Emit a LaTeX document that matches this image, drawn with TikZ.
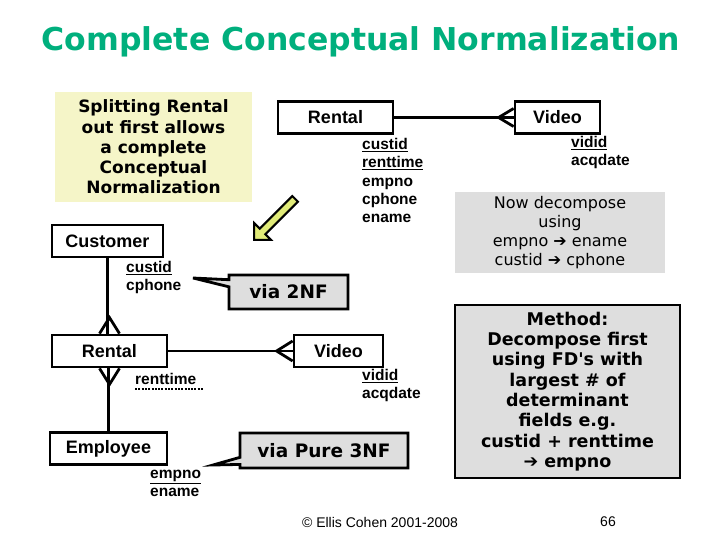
\documentclass[tikz,border=0pt]{standalone}
\usepackage{fontspec}
\setmainfont{Liberation Sans}
\newfontfamily\vfont{DejaVu Sans}
\usetikzlibrary{shapes.callouts,shapes.arrows}
\definecolor{ttl}{RGB}{0,175,125}
\definecolor{pale}{RGB}{245,245,200}
\definecolor{gr}{RGB}{222,222,222}
\definecolor{arw}{RGB}{225,235,120}
\begin{document}
\begin{tikzpicture}[x=1pt,y=-1pt,
 ent/.style={draw,line width=2.8pt,fill=white,minimum height=32pt,inner sep=1pt,font=\bfseries\fontsize{18}{20}\selectfont},
 att/.style={align=left,anchor=north west,inner sep=0pt,font=\bfseries\fontsize{15.5}{18.3}\selectfont},
 rel/.style={line width=2.8pt},
 bold/.style={font=\vfont\bfseries\fontsize{17}{18}\selectfont,align=center},
 call/.style={draw,line width=2.8pt,fill=gr,rectangle callout,bold,inner sep=1pt,font=\vfont\bfseries\fontsize{18.5}{20}\selectfont}]
\useasboundingbox (0,0) rectangle (720,540);
\node[font=\vfont\bfseries\fontsize{31.5}{34}\selectfont,text=ttl] (title) at (361,42) {Complete Conceptual Normalization};
\node[fill=pale,bold,minimum width=197pt,minimum height=110pt,inner sep=1pt,font=\vfont\bfseries\fontsize{17}{20.3}\selectfont] (note) at (153.5,147) {Splitting Rental\\out first allows\\a complete\\Conceptual\\Normalization};
% top
\node[ent,minimum width=115pt] (r1) at (335.5,117.5) {Rental};
\node[ent,minimum width=85pt] (v1) at (557.5,117.5) {Video};
\draw[rel] (r1.east) -- (v1.west);
\draw[rel] (v1.west)++(0,-9) -- ++(-15,9) -- ++(15,9);
\node[att] (a1) at (362,138) {\underline{custid}\\\underline{renttime}\\empno\\cphone\\ename};
\node[att] (a2) at (571,136) {\underline{vidid}\\acqdate};
\node[fill=gr,minimum width=210pt,minimum height=81pt,bold,inner sep=1pt,font=\vfont\fontsize{16}{19}\selectfont] (now) at (560,232.5) {Now decompose\\using\\empno {\vfont\bfseries➔} ename\\custid {\vfont\bfseries➔} cphone};
\node[single arrow,draw,line width=2pt,fill=arw,rotate=-135,minimum height=58pt,minimum width=24pt,single arrow head extend=6pt,inner sep=2pt] (ya) at (276,218) {};
% lower
\node[ent,minimum width=111pt] (cu) at (107.5,241) {Customer};
\node[att] (a3) at (126,261) {\underline{custid}\\cphone};
\node[call,callout absolute pointer={(193,278)},minimum width=119pt,minimum height=34pt] (c2) at (288.5,292) {via 2NF};
\node[ent,minimum width=115pt] (r2) at (109.5,351) {Rental};
\node[ent,minimum width=89pt] (v2) at (338.5,351) {Video};
\node[ent,minimum width=117pt] (em) at (108.5,448.5) {Employee};
\draw[rel] (cu.south) -- (cu.south|-r2.north);
\draw[rel] (r2.north)++(-10,0) -- ++(10,-16) -- ++(10,16);
\draw[rel] (r2.east) -- (v2.west);
\draw[rel] (v2.west)++(0,-10) -- ++(-16,10) -- ++(16,10);
\draw[rel] (r2.south -| em.north) -- (em.north);
\draw[rel] (r2.south)++(-10,0) -- ++(10,16) -- ++(10,-16);
\node[att] (a4) at (135,373) {renttime};
\draw[line width=2pt,dash pattern=on 2pt off 1.3pt] (a4.south west)++(0,4) -- ++(68,0);
\node[att] (a5) at (362,369) {\underline{vidid}\\acqdate};
\node[call,callout absolute pointer={(213,465)},minimum width=168pt,minimum height=35pt] (c3) at (324,450.5) {via Pure 3NF};
\node[att] (a6) at (150,470) {\underline{empno}\\ename};
\node[draw,line width=2.8pt,fill=gr,minimum width=225pt,minimum height=173pt,bold,inner sep=1pt,font=\vfont\bfseries\fontsize{17.5}{20.3}\selectfont] (m) at (567.5,391.5) {Method:\\Decompose first\\using FD's with\\largest \# of\\determinant\\fields e.g.\\custid + renttime\\{\vfont➔} empno};
\node[font=\fontsize{14}{15}\selectfont] (cp) at (380,522) {© Ellis Cohen 2001-2008};
\node[font=\fontsize{14}{15}\selectfont] (pg) at (608,522) {66};
\end{tikzpicture}
\end{document}
